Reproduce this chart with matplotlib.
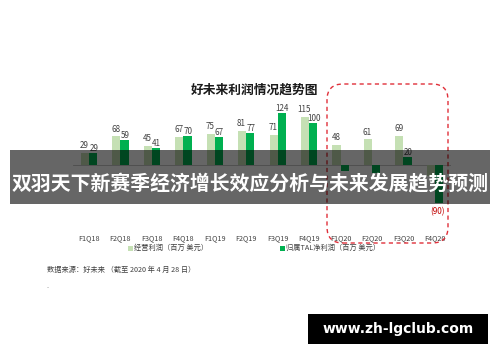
import matplotlib
matplotlib.use("Agg")
import matplotlib.pyplot as plt
from matplotlib.patches import Rectangle, FancyBboxPatch
from matplotlib.transforms import IdentityTransform, blended_transform_factory
import numpy as np

plt.rcParams['font.family'] = ['Noto Sans CJK SC', 'DejaVu Sans']

categories = ["F1Q18", "F2Q18", "F3Q18", "F4Q18", "F1Q19", "F2Q19",
              "F3Q19", "F4Q19", "F1Q20", "F2Q20", "F3Q20", "F4Q20"]
operating_profit = [29, 68, 45, 67, 75, 81, 71, 115, 48, 61, 69, -26]
net_profit = [29, 59, 41, 70, 67, 77, 124, 100, -14, -18, 20, -90]

title = "好未来利润情况趋势图"
legend_labels = ["经营利润（百万 美元）", "归属TAL净利润（百万 美元）"]
source_text = "数据来源：好未来 （截至 2020 年 4 月 28 日）"
banner_text = "双羽天下新赛季经济增长效应分析与未来发展趋势预测"
watermark = "www.zh-lgclub.com"

W, H = 500, 362
fig = plt.figure(figsize=(W / 100, H / 100), dpi=100)
fig.patch.set_facecolor("white")

def fx(px):
    return px / W

def fy(py):
    return 1 - py / H

# axes geometry (image pixels)
scale = 0.42          # px per unit
base_y = 165
x0, dx = 89.0, 31.45
ax_left = x0 - dx / 2
ax_right = x0 + dx * 11.5
ax_top, ax_bot = 80, 215
ax = fig.add_axes([fx(ax_left), fy(ax_bot), fx(ax_right - ax_left), (ax_bot - ax_top) / H])
ax.set_xlim(-0.5, 11.5)
ax.set_ylim(-(ax_bot - base_y) / scale, (base_y - ax_top) / scale)
ax.axis("off")

light = "#c5e0b4"
green = "#00b050"
bw = 0.26
x = np.arange(len(categories))
ax.bar(x - bw / 2, operating_profit, bw, color=light, zorder=2)
ax.bar(x + bw / 2, net_profit, bw, color=green, zorder=2)
ax.axhline(0, color="#bfbfbf", lw=0.6, zorder=1)

# only the labels visible in the reference (others hidden under the banner)
for xi, v in zip(x, operating_profit):
    if v >= 0:
        ax.annotate(str(v), (xi - bw / 2 - 0.02, v), xytext=(0, 2), textcoords="offset points",
                    ha="center", va="bottom", fontsize=5.8, color="#404040", zorder=3)
for xi, v in zip(x, net_profit):
    if v >= 0:
        ax.annotate(str(v), (xi + bw / 2 + 0.02, v), xytext=(0, 0), textcoords="offset points",
                    ha="center", va="bottom", fontsize=5.8, color="#404040", zorder=3)
    elif v <= -50:
        ax.annotate("(%d)" % (-v), (xi + bw / 2 - 0.05, v), xytext=(0, -3), textcoords="offset points",
                    ha="center", va="top", fontsize=5.8, color="#c00000", zorder=3)

# category labels
trans = blended_transform_factory(ax.transData, fig.transFigure)
for xi, c in zip(x, categories):
    ax.text(xi, fy(238), c, transform=trans, ha="center", va="center",
            fontsize=5.2, color="#404040")

# title
fig.text(fx(255), fy(90), title, ha="center", va="center", fontsize=9.2,
         fontweight="bold", color="#1a1a1a")

# legend
for (lx, lab, col) in [(130, legend_labels[0], light), (282, legend_labels[1], green)]:
    fig.patches.append(Rectangle((lx - 2.5, H - 248 - 2.5), 5, 5, transform=IdentityTransform(),
                                 facecolor=col, edgecolor="none"))
    fig.text(fx(lx + 4), fy(248), lab, ha="left", va="center", fontsize=5.2, color="#404040")

# source
fig.text(fx(47), fy(270), source_text, ha="left", va="center", fontsize=5.2, color="#404040")
fig.text(fx(47), fy(287), "..", ha="left", va="center", fontsize=4, color="#808080")

# red dashed rounded box
rx0, ry0, rx1, ry1 = 327, 84, 448, 243
box = FancyBboxPatch((rx0, H - ry1), rx1 - rx0, ry1 - ry0,
                     boxstyle="round,pad=0,rounding_size=16",
                     transform=IdentityTransform(), facecolor="none",
                     edgecolor="#e0303a", lw=1.0, linestyle=(0, (3, 2.5)))
fig.patches.append(box)

# banner
fig.patches.append(Rectangle((fx(10), fy(204)), fx(480), (204 - 150) / H,
                             transform=fig.transFigure, facecolor="black",
                             alpha=0.6, edgecolor="none", zorder=10))
fig.text(fx(250), fy(184), banner_text, ha="center", va="center", fontsize=14.3,
         fontweight="bold", color="white", zorder=11)

# watermark
fig.patches.append(Rectangle((fx(308), fy(344)), fx(180), 30 / H,
                             transform=fig.transFigure, facecolor="black",
                             edgecolor="none", zorder=10))
fig.text(fx(398), fy(329), watermark, ha="center", va="center", fontsize=10,
         fontweight="bold", color="white", family="DejaVu Sans", zorder=11)

fig.savefig("out.png", dpi=100)
